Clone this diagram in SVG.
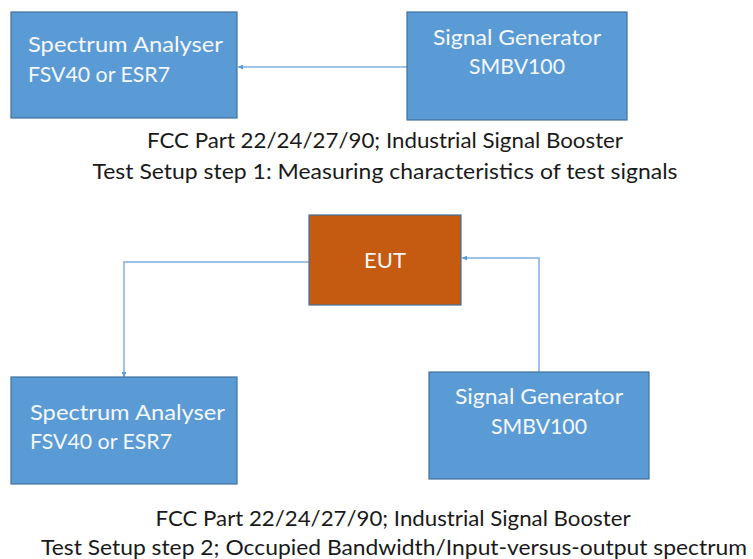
<svg xmlns="http://www.w3.org/2000/svg" width="753" height="559" viewBox="0 0 753 559">
<style>
.box{fill:#5B9BD5;stroke:#41719C;stroke-width:1.2}
.eut{fill:#C55A11;stroke:#41719C;stroke-width:1.2}
.bt{font-family:Lato,"Liberation Sans",sans-serif;font-size:22px;fill:#F4F8FC}
.cap{font-family:Lato,"Liberation Sans",sans-serif;font-size:22px;fill:#1a1a1a;text-anchor:middle}
.conn{fill:none;stroke:#7FAEDF;stroke-width:1.5}
</style>
<defs>
<marker id="ah" viewBox="0 0 10 10" refX="10" refY="5" markerWidth="5" markerHeight="5" orient="auto" markerUnits="userSpaceOnUse">
<path d="M0,0 L10,5 L0,10 z" fill="#5B9BD5"/>
</marker>
</defs>
<rect width="753" height="559" fill="#fff"/>
<g id="connectors">
<path class="conn" d="M407,67 H238" marker-end="url(#ah)"/>
<path class="conn" d="M309,262 H124 V377" marker-end="url(#ah)"/>
<path class="conn" d="M539,372 V258 H462" marker-end="url(#ah)"/>
</g>
<g id="sa1">
<rect class="box" x="11" y="12" width="226" height="106"/>
<text class="bt" x="28" y="52" textLength="195" lengthAdjust="spacingAndGlyphs">Spectrum Analyser</text>
<text class="bt" x="28" y="82" textLength="142" lengthAdjust="spacingAndGlyphs">FSV40 or ESR7</text>
</g>
<g id="sg1">
<rect class="box" x="407" y="12" width="220" height="108"/>
<text class="bt" x="517" y="45" text-anchor="middle" textLength="168" lengthAdjust="spacingAndGlyphs">Signal Generator</text>
<text class="bt" x="517" y="74" text-anchor="middle" textLength="96" lengthAdjust="spacingAndGlyphs">SMBV100</text>
</g>
<g id="cap1">
<text class="cap" x="385" y="148" textLength="476" lengthAdjust="spacingAndGlyphs">FCC Part 22/24/27/90; Industrial Signal Booster</text>
<text class="cap" x="385" y="179" textLength="585" lengthAdjust="spacingAndGlyphs">Test Setup step 1: Measuring characteristics of test signals</text>
</g>
<g id="eut">
<rect class="eut" x="309" y="215" width="152" height="90"/>
<text class="bt" x="385" y="268" text-anchor="middle">EUT</text>
</g>
<g id="sa2">
<rect class="box" x="11" y="377" width="226" height="107"/>
<text class="bt" x="30" y="420" textLength="195" lengthAdjust="spacingAndGlyphs">Spectrum Analyser</text>
<text class="bt" x="30" y="449" textLength="142" lengthAdjust="spacingAndGlyphs">FSV40 or ESR7</text>
</g>
<g id="sg2">
<rect class="box" x="429" y="372" width="220" height="107"/>
<text class="bt" x="539" y="404" text-anchor="middle" textLength="168" lengthAdjust="spacingAndGlyphs">Signal Generator</text>
<text class="bt" x="539" y="434" text-anchor="middle" textLength="96" lengthAdjust="spacingAndGlyphs">SMBV100</text>
</g>
<g id="cap2">
<text class="cap" x="393" y="526" textLength="475" lengthAdjust="spacingAndGlyphs">FCC Part 22/24/27/90; Industrial Signal Booster</text>
<text class="cap" x="394" y="555" textLength="706" lengthAdjust="spacingAndGlyphs">Test Setup step 2; Occupied Bandwidth/Input-versus-output spectrum</text>
</g>
</svg>
